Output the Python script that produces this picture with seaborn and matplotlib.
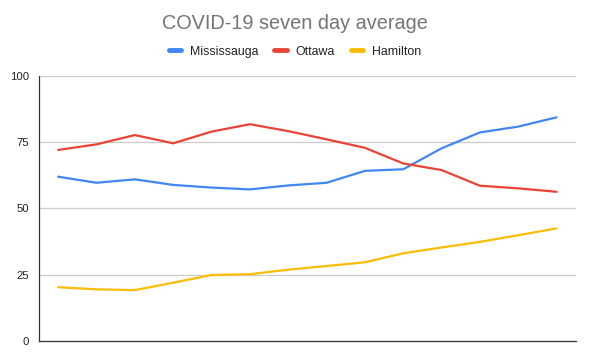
import seaborn as sns
import matplotlib.pyplot as plt
import pandas as pd

days = list(range(14))
mississauga = [62.0, 59.7, 61.0, 58.9, 57.9, 57.2, 58.7, 59.7, 64.2, 64.8, 72.7, 78.7, 80.9, 84.4]
ottawa = [72.1, 74.2, 77.7, 74.6, 79.0, 81.8, 79.2, 76.1, 72.9, 67.0, 64.5, 58.6, 57.6, 56.3]
hamilton = [20.3, 19.5, 19.2, 22.0, 24.9, 25.2, 26.9, 28.3, 29.7, 33.1, 35.3, 37.4, 39.9, 42.5]
series = ["Mississauga", "Ottawa", "Hamilton"]
colors = ["#4285F4", "#EA4335", "#FBBC04"]

df = pd.DataFrame({
    "day": days * 3,
    "value": mississauga + ottawa + hamilton,
    "city": [s for s in series for _ in days],
})

sns.set_style("white")
plt.rcParams["font.family"] = ["Liberation Sans", "DejaVu Sans"]

fig = plt.figure(figsize=(5.9, 3.61), dpi=100)
ax = fig.add_axes([0.0661, 0.0554, 0.9097, 0.7341])
sns.lineplot(data=df, x="day", y="value", hue="city", hue_order=series,
             palette=colors, linewidth=1.6, ax=ax, legend=False)

ax.set_xlim(-0.5, 13.5)
ax.set_ylim(0, 100)
ax.set_yticks([0, 25, 50, 75, 100])
ax.set_xticks([])
ax.set_xlabel("")
ax.set_ylabel("")
ax.tick_params(axis="y", length=0, labelsize=8.2, labelcolor="#222222", pad=7)
ax.grid(axis="y", color="#cccccc", linewidth=0.9)
for side in ["top", "right"]:
    ax.spines[side].set_visible(False)
ax.spines["left"].set_color("#333333")
ax.spines["bottom"].set_color("#333333")
ax.spines["left"].set_linewidth(0.9)
ax.spines["bottom"].set_linewidth(0.9)

fig.text(0.5, 0.936, "COVID-19 seven day average", ha="center", va="center",
         fontsize=14.3, color="#757575")
handles = [plt.Line2D([], [], color=c, linewidth=3.5) for c in colors]
fig.legend(handles, series, loc="center", bbox_to_anchor=(0.5, 0.857), ncol=3,
           frameon=False, fontsize=8.9, handlelength=1.0, columnspacing=1.3,
           handletextpad=0.72, labelcolor="#222222")

fig.savefig("out.png", dpi=100)
